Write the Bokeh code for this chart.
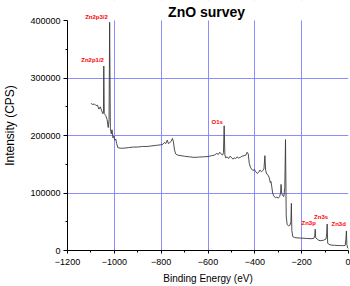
from bokeh.plotting import figure
from bokeh.models import Range1d, FixedTicker, Label, BasicTickFormatter, BoxAnnotation
from bokeh.embed import file_html
from bokeh.resources import INLINE

# ---- data ----
energy = [-1100, -1092, -1085, -1078, -1072, -1066, -1060, -1054, -1049, -1046.5, -1045, -1043,
          -1037, -1031, -1026, -1022.5, -1020, -1017, -1013, -1010, -1006, -1002, -998, -994, -990,
          -985, -975, -960, -940, -920, -900, -880, -860, -840, -820, -800, -792, -786, -780, -774,
          -769, -763, -757, -752, -748, -743, -738, -730, -715, -700, -680, -660, -640, -620, -600,
          -585, -572, -562, -556, -550, -544, -538, -534, -531, -528, -524, -518, -512, -506, -500,
          -494, -488, -482, -476, -470, -462, -455, -446, -438, -433, -428, -424, -419, -414, -408,
          -402, -396, -390, -384, -378, -372, -366, -361, -357, -354, -349, -343, -338, -334, -331,
          -328, -324, -318, -312, -306, -300, -294, -290, -288, -285, -280, -276, -272, -269, -266,
          -262, -256, -250, -246, -244, -242, -238, -230, -220, -200, -180, -160, -148, -144, -142,
          -140, -134, -126, -118, -106, -96, -93, -91, -89, -85, -75, -60, -45, -30, -20, -14, -11,
          -9, -7, -3, 0]
counts = [256000, 254000, 255000, 252000, 253000, 246000, 250000, 243000, 238000, 241000, 321000, 238000,
          235000, 228000, 214000, 228000, 397000, 212000, 203000, 210000, 196000, 199000, 192000, 194000, 186000,
          179000, 178000, 178000, 179000, 180000, 180000, 181000, 181000, 182000, 183000, 184000, 185000, 188000, 186000, 192000,
          186000, 188000, 190000, 195000, 190000, 175000, 168000, 166000, 165000, 164000, 163000, 162000, 162500, 163000, 163500,
          165000, 166000, 169000, 167000, 171000, 168000, 166000, 170000, 217000, 166000, 161000, 163000, 160000, 164000, 162000,
          159000, 161000, 160000, 163000, 161000, 162000, 164000, 165000, 166000, 171000, 168000, 152000, 145000, 142000, 139000,
          141000, 137000, 134000, 136000, 140000, 137000, 139000, 142000, 165000, 140000, 133000, 131000, 126000, 118000, 120000,
          112000, 100000, 94000, 92000, 93000, 91000, 94000, 100000, 115000, 99000, 95000, 94000, 110000, 193000, 60000,
          45000, 43000, 44000, 50000, 82000, 35000, 24000, 22500, 22000, 21500, 21000, 20500, 21000, 26000, 37000,
          22000, 20000, 17500, 17000, 18000, 20000, 30000, 46000, 13000, 11000, 9500, 9000, 8700, 8500, 8500, 9000, 20000,
          34000, 10000, 4000, 3000]

x_ticks = [-1200, -1000, -800, -600, -400, -200, 0]
x_minor = [-1100, -900, -700, -500, -300, -100]
y_ticks = [0, 100000, 200000, 300000, 400000]
y_minor = [50000, 150000, 250000, 350000]
x_grid = [-1000, -800, -600, -400, -200]
y_grid = [100000, 200000, 300000]
y_axis_max = 400000

title_text = "ZnO survey"
x_label = "Binding Energy (eV)"
y_label = "Intensity (CPS)"

peak_names = ["Zn2p3/2", "Zn2p1/2", "O1s", "Zn3p", "Zn3s", "Zn3d"]
peak_label_x = [-1076, -1093, -561, -170, -117, -42]
peak_label_y = [406000, 332000, 224000, 47000, 59000, 46000]

FONT = "Liberation Sans"

p = figure(width=350, height=286, output_backend="svg", toolbar_location=None,
           x_range=Range1d(-1200, 0), y_range=Range1d(0, 435000),
           min_border_left=61, min_border_right=2, min_border_top=0, min_border_bottom=35)
p.styles = {"position": "absolute", "left": "0px", "top": "0px"}
p.outline_line_color = None
p.background_fill_color = "white"
p.border_fill_color = "white"

p.line(energy, counts, line_color="#3a3a3a", line_width=0.9)

for ax, ticks, minor in ((p.xaxis[0], x_ticks, x_minor), (p.yaxis[0], y_ticks, y_minor)):
    ax.ticker = FixedTicker(ticks=ticks, minor_ticks=minor)
    ax.axis_line_color = "black"
    ax.axis_line_width = 1
    ax.major_tick_line_color = "black"
    ax.minor_tick_line_color = "black"
    ax.major_tick_in = 0
    ax.minor_tick_in = 0
    ax.minor_tick_out = 2
    ax.major_label_text_font = FONT
    ax.major_label_text_font_size = "9px"
    ax.major_label_text_color = "black"
    ax.axis_label_text_font = FONT
    ax.axis_label_text_font_style = "normal"
    ax.axis_label_text_color = "black"

p.xaxis[0].major_tick_out = 3
p.xaxis[0].major_label_standoff = 5
p.xaxis[0].axis_label = x_label
p.xaxis[0].axis_label_text_font_size = "10px"
p.xaxis[0].axis_label_standoff = 5

p.yaxis[0].bounds = (0, y_axis_max)
p.yaxis[0].major_tick_out = 4
p.yaxis[0].major_label_standoff = 3
p.yaxis[0].formatter = BasicTickFormatter(use_scientific=False)
p.yaxis[0].axis_label = y_label
p.yaxis[0].axis_label_text_font_size = "12px"
p.yaxis[0].axis_label_standoff = 10

p.xgrid.ticker = FixedTicker(ticks=x_grid)
p.ygrid.ticker = FixedTicker(ticks=y_grid)
for g in (p.xgrid[0], p.ygrid[0]):
    g.grid_line_color = "#7f7fff"
    g.grid_line_width = 1
    g.grid_line_alpha = 0.9

# hide the part of the vertical grid above the top of the axis
p.add_layout(BoxAnnotation(bottom=y_axis_max, fill_color="white", fill_alpha=1.0,
                           line_color=None, level="underlay"))

p.add_layout(Label(x=-606, y=415500, text=title_text, text_font=FONT, text_font_size="14px",
                   text_font_style="bold", text_align="center", text_baseline="alphabetic",
                   text_color="black"))

for name, lx, ly in zip(peak_names, peak_label_x, peak_label_y):
    p.add_layout(Label(x=lx, y=ly, text=name, text_font=FONT, text_font_size="6px",
                       text_font_style="bold", text_align="center", text_baseline="middle",
                       text_color="#ff0000"))

open("out.html", "w").write(file_html(p, INLINE))
